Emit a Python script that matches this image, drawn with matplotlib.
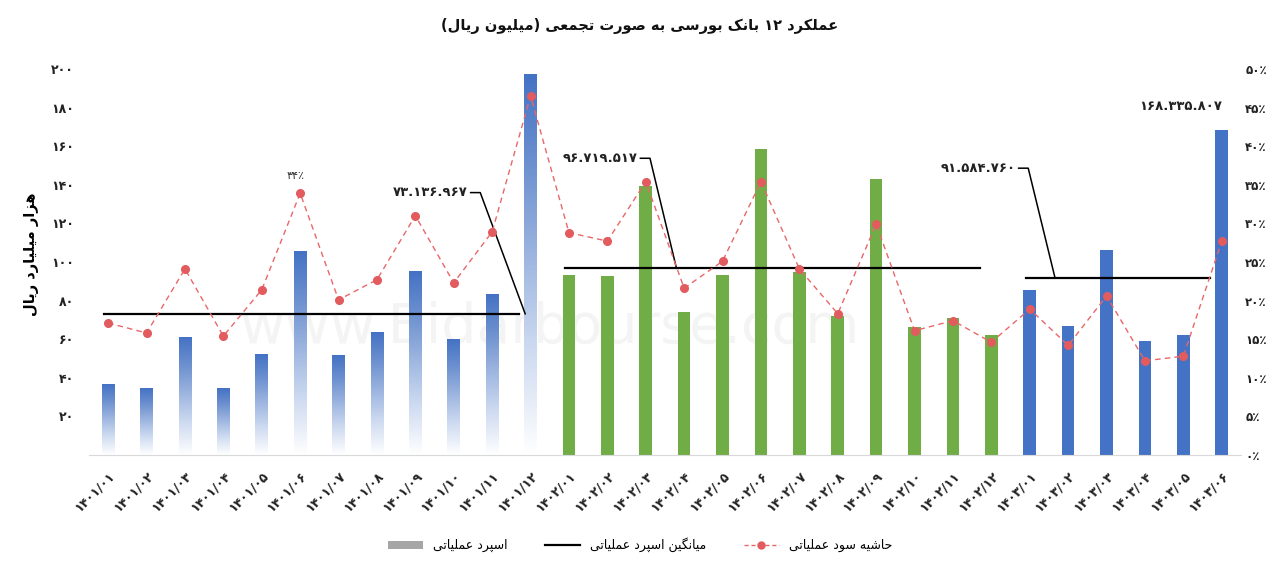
import numpy as np
import matplotlib.pyplot as plt
from matplotlib.colors import LinearSegmentedColormap
from matplotlib.patches import Patch
from matplotlib.lines import Line2D

plt.rcParams['font.family'] = ['DejaVu Sans']

# --- data -------------------------------------------------------------
months = ['1401/01', '1401/02', '1401/03', '1401/04', '1401/05', '1401/06',
          '1401/07', '1401/08', '1401/09', '1401/10', '1401/11', '1401/12',
          '1402/01', '1402/02', '1402/03', '1402/04', '1402/05', '1402/06',
          '1402/07', '1402/08', '1402/09', '1402/10', '1402/11', '1402/12',
          '1403/01', '1403/02', '1403/03', '1403/04', '1403/05', '1403/06']
# operating spread, thousand billion rial
spread = [36.3, 34.2, 61.1, 34.7, 52.3, 105.2, 51.8, 63.2, 94.8, 59.6, 82.9, 196.9,
          93.3, 92.7, 139.4, 74.1, 93.3, 158.5, 94.8, 72.0, 143.0, 66.3, 71.0, 62.2,
          85.5, 66.8, 106.2, 59.1, 62.2, 168.3]
# operating profit margin, %
margin = [17.1, 15.8, 24.1, 15.4, 21.4, 33.9, 20.1, 22.7, 31.0, 22.3, 28.9, 46.5,
          28.8, 27.7, 35.4, 21.6, 25.1, 35.4, 24.1, 18.3, 29.9, 16.1, 17.4, 14.6,
          18.9, 14.2, 20.6, 12.2, 12.8, 27.7]
years = ['1401', '1402', '1403']
year_avg = [73.136967, 96.719517, 91.584760]
avg_labels = ['73.136.967', '96.719.517', '91.584.760']
last_label = '168.335.807'
peak_margin_label = '34%'

# --- persian text helpers -------------------------------------------
FA_DIGITS = str.maketrans('0123456789%', '۰۱۲۳۴۵۶۷۸۹٪')

FORMS = {
    'ا': ('\uFE8D', '\uFE8E', None, None),
    'ب': ('\uFE8F', '\uFE90', '\uFE91', '\uFE92'),
    'پ': ('\uFB56', '\uFB57', '\uFB58', '\uFB59'),
    'ت': ('\uFE95', '\uFE96', '\uFE97', '\uFE98'),
    'ج': ('\uFE9D', '\uFE9E', '\uFE9F', '\uFEA0'),
    'ح': ('\uFEA1', '\uFEA2', '\uFEA3', '\uFEA4'),
    'د': ('\uFEA9', '\uFEAA', None, None),
    'ر': ('\uFEAD', '\uFEAE', None, None),
    'ز': ('\uFEAF', '\uFEB0', None, None),
    'س': ('\uFEB1', '\uFEB2', '\uFEB3', '\uFEB4'),
    'ش': ('\uFEB5', '\uFEB6', '\uFEB7', '\uFEB8'),
    'ص': ('\uFEB9', '\uFEBA', '\uFEBB', '\uFEBC'),
    'ع': ('\uFEC9', '\uFECA', '\uFECB', '\uFECC'),
    'ک': ('\uFB8E', '\uFB8F', '\uFB90', '\uFB91'),
    'گ': ('\uFB92', '\uFB93', '\uFB94', '\uFB95'),
    'ل': ('\uFEDD', '\uFEDE', '\uFEDF', '\uFEE0'),
    'م': ('\uFEE1', '\uFEE2', '\uFEE3', '\uFEE4'),
    'ن': ('\uFEE5', '\uFEE6', '\uFEE7', '\uFEE8'),
    'و': ('\uFEED', '\uFEEE', None, None),
    'ه': ('\uFEE9', '\uFEEA', '\uFEEB', '\uFEEC'),
    'ی': ('\uFBFC', '\uFBFD', '\uFBFE', '\uFBFF'),
}


def fa(text):
    """shape persian letters and put them in visual (left to right) order"""
    text = text.translate(FA_DIGITS)
    out = []
    for i, c in enumerate(text):
        if c not in FORMS:
            out.append(c)
            continue
        prev = text[i - 1] if i > 0 else ''
        nxt = text[i + 1] if i + 1 < len(text) else ''
        join_prev = prev in FORMS and FORMS[prev][2] is not None
        join_next = nxt in FORMS and FORMS[c][2] is not None
        iso, fin, ini, med = FORMS[c]
        if join_prev and join_next:
            out.append(med)
        elif join_prev:
            out.append(fin)
        elif join_next:
            out.append(ini)
        else:
            out.append(iso)
    vis = ''.join(reversed(out))
    # digit runs stay left to right
    res, run = [], []
    for c in vis:
        if c in '۰۱۲۳۴۵۶۷۸۹':
            run.append(c)
        else:
            res.extend(reversed(run))
            run = []
            res.append({'(': ')', ')': '('}.get(c, c))
    res.extend(reversed(run))
    return ''.join(res)


def fa_num(s):
    return s.translate(FA_DIGITS)


# --- figure -----------------------------------------------------------
fig = plt.figure(figsize=(12.8, 5.72), dpi=100)
ax = fig.add_axes([0.0695, 0.2045, 0.9, 0.675])
ax2 = ax.twinx()

x = np.arange(len(months))
width = 0.33
blue = '#4472C4'
green = '#70AD47'

colors = []
for m in months:
    colors.append(green if m.startswith('1402') else blue)

bars = ax.bar(x, spread, width=width, color=colors, zorder=2)

# 1401 bars fade from blue at the top to white at the baseline
fade = LinearSegmentedColormap.from_list(
    'fade', [(0, '#ffffff'), (0.3, '#c9d7ef'), (0.75, '#6f92d0'), (1, blue)])
grad = np.linspace(0, 1, 256).reshape(-1, 1)
for b, m in zip(bars, months):
    if m.startswith('1401'):
        b.set_facecolor('none')
        x0, y0 = b.get_x(), b.get_y()
        ax.imshow(grad, cmap=fade, origin='lower', aspect='auto',
                  extent=(x0, x0 + b.get_width(), y0, y0 + b.get_height()), zorder=2)

ax.set_xlim(-0.5, len(months) - 0.5)
ax.set_ylim(0, 200)
ax2.set_ylim(0, 50)

# yearly average lines with leader labels
leader_off = [(-1.17, 62.8), (-0.69, 57.0), (-0.70, 57.0)]
leader_at = [10.86, 14.8, 24.66]
for yr, avg, lab, off, tx in zip(years, year_avg, avg_labels, leader_off, leader_at):
    idx = [i for i, m in enumerate(months) if m.startswith(yr)]
    ax.plot([idx[0] - 0.1, idx[-1] - 0.3], [avg, avg], color='black', lw=1.6, zorder=4)
    cx, cy = tx + off[0], avg + off[1]
    ax.plot([cx - 0.25, cx, tx], [cy, cy, avg], color='black', lw=1.1, zorder=4)
    ax.text(cx - 0.33, cy, fa_num(lab), ha='right', va='center', fontsize=9.5,
            fontweight='bold', color='#222222', zorder=5)

# profit margin on the right axis
ax2.plot(x, margin, color='#e8676a', lw=1.0, ls=(0, (4, 3)), marker='o',
         markersize=5.5, markerfacecolor='#e25b5e', markeredgecolor='#e25b5e', zorder=5)

i_peak = months.index('1401/06')
ax2.annotate(fa_num(peak_margin_label), (x[i_peak], margin[i_peak]), xytext=(-3, 9),
             textcoords='offset points', ha='center', va='bottom', fontsize=8, color='#333333')
ax.annotate(fa_num(last_label), (x[-1], spread[-1]), xytext=(0, 12),
            textcoords='offset points', ha='right', va='bottom', fontsize=9.5,
            fontweight='bold', color='#222222')

# axes styling
for a in (ax, ax2):
    for s in a.spines.values():
        s.set_visible(False)
ax.spines['bottom'].set_visible(True)
ax.spines['bottom'].set_color('#d9d9d9')

ax.set_xticks(x)
ax.set_xticklabels([fa_num(m) for m in months], rotation=45, ha='right',
                   rotation_mode='anchor', fontsize=9, fontweight='bold', color='#222222')
ax.tick_params(axis='x', length=0, pad=10)

yt = list(range(20, 201, 20))
ax.set_yticks(yt)
ax.set_yticklabels([fa_num(str(v)) for v in yt], fontsize=9, fontweight='bold', color='#222222')
ax.tick_params(axis='y', length=0, pad=11)

pt = list(range(0, 51, 5))
ax2.set_yticks(pt)
ax2.set_yticklabels([fa_num(f'{v}%') for v in pt], fontsize=8.5, fontweight='bold', color='#222222')
ax2.tick_params(axis='y', length=0, pad=3)

ax.set_ylabel(fa('هزار میلیارد ریال'), fontsize=10.5, fontweight='bold')
ax.yaxis.set_label_coords(-0.043, 0.52)

# faint watermark
ax.text(0.4, 0.33, 'www.Bidarbourse.com', transform=ax.transAxes, ha='center', va='center',
        fontsize=40, color='#f4f4f4', zorder=0)

fig.text(0.5, 0.955, fa('عملکرد 12 بانک بورسی به صورت تجمعی (میلیون ریال)'),
         ha='center', va='center', fontsize=10.5, fontweight='bold', color='#111111')

handles = [Patch(facecolor='#a6a6a6'),
           Line2D([], [], color='black', lw=1.6),
           Line2D([], [], color='#e8676a', lw=1.0, ls=(0, (3, 2)), marker='o',
                  markersize=5, markerfacecolor='#e25b5e', markeredgecolor='#e25b5e')]
labels = [fa('اسپرد عملیاتی'), fa('میانگین اسپرد عملیاتی'), fa('حاشیه سود عملیاتی')]
fig.legend(handles, labels, loc='center', bbox_to_anchor=(0.5, 0.047), ncol=3,
           frameon=False, fontsize=9, columnspacing=3, handlelength=2.8)

fig.savefig('out.png', dpi=100)
